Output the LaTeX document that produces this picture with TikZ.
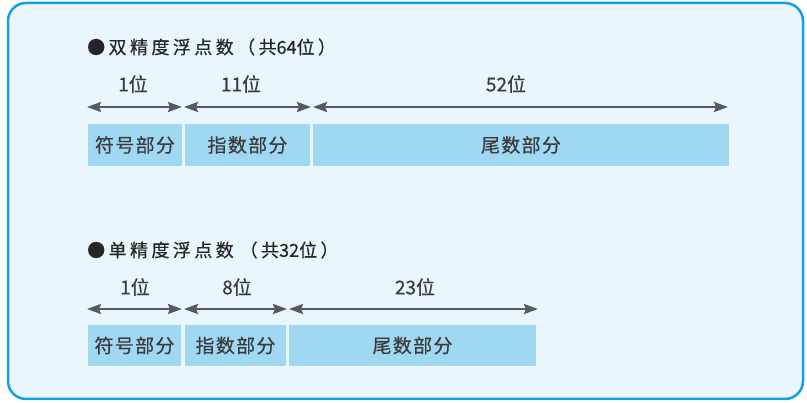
\documentclass[tikz,border=0pt]{standalone}
\usepackage{fontspec}
\usetikzlibrary{arrows.meta}
\newfontfamily\cjk[LetterSpace=19,FakeBold=0.4]{Noto Sans CJK SC}
\newfontfamily\cjkplain[FakeBold=0.5]{Noto Sans CJK SC}
\newfontfamily\cjkbox[LetterSpace=7,FakeBold=0.5]{Noto Sans CJK SC}
\newcommand{\dg}[1]{{\cjkplain #1}}
\definecolor{frameblue}{RGB}{20,160,225}
\definecolor{framebg}{RGB}{233,246,252}
\definecolor{boxblue}{RGB}{160,216,243}
\definecolor{txtgray}{RGB}{60,60,60}
\definecolor{arrgray}{RGB}{90,90,90}
\tikzset{
  fieldbox/.style={fill=boxblue, draw=none, inner sep=0pt, minimum height=42pt, text=txtgray, font=\cjkbox\fontsize{19}{19}\selectfont},
  bitlabel/.style={inner sep=0pt, text=txtgray, font=\cjkplain\fontsize{19}{19}\selectfont},
  titletext/.style={inner sep=0pt, anchor=west, text=black!85, font=\cjk\fontsize{18}{18}\selectfont},
  dimline/.style={draw=arrgray, line width=2.4pt, {Stealth[length=14pt,width=10pt,inset=2pt]}-{Stealth[length=14pt,width=10pt,inset=2pt]}}
}
\begin{document}
\begin{tikzpicture}[x=1pt,y=-1pt]
\useasboundingbox (0,0) rectangle (807,403);
\draw[draw=frameblue, fill=framebg, line width=2.5pt, rounded corners=18pt] (8,3) rectangle (803,399);

% double precision
\node[titletext] (t1) at (87,47) {●双精度浮点数（共\dg{64}位）};
\node[bitlabel] (l1) at (133,84) {1位};
\node[bitlabel] (l2) at (241,84) {11位};
\node[bitlabel] (l3) at (506,84) {52位};
\coordinate (a1l) at (87,107);  \coordinate (a1r) at (182,107);
\coordinate (a2l) at (184,107); \coordinate (a2r) at (311,107);
\coordinate (a3l) at (313,107); \coordinate (a3r) at (728,107);
\draw[dimline] (a1l) -- (a1r);
\draw[dimline] (a2l) -- (a2r);
\draw[dimline] (a3l) -- (a3r);
\node[fieldbox, minimum width=94pt] (b1) at (135,145) {符号部分};
\node[fieldbox, minimum width=125pt] (b2) at (247.5,145) {指数部分};
\node[fieldbox, minimum width=416pt] (b3) at (521,145) {尾数部分};

% single precision
\node[titletext] (t2) at (87,250) {●单精度浮点数\hspace{6pt}（共\dg{32}位）};
\node[bitlabel] (m1) at (135,287) {1位};
\node[bitlabel] (m2) at (237,287) {8位};
\node[bitlabel] (m3) at (415,287) {23位};
\coordinate (c1l) at (87,309);  \coordinate (c1r) at (182,309);
\coordinate (c2l) at (184,309); \coordinate (c2r) at (287,309);
\coordinate (c3l) at (289,309); \coordinate (c3r) at (538,309);
\draw[dimline] (c1l) -- (c1r);
\draw[dimline] (c2l) -- (c2r);
\draw[dimline] (c3l) -- (c3r);
\node[fieldbox, minimum width=93pt, minimum height=41pt] (s1) at (134.5,345.5) {符号部分};
\node[fieldbox, minimum width=101pt, minimum height=41pt] (s2) at (235.5,345.5) {指数部分};
\node[fieldbox, minimum width=247pt, minimum height=41pt] (s3) at (412.5,345.5) {尾数部分};
\end{tikzpicture}
\end{document}
